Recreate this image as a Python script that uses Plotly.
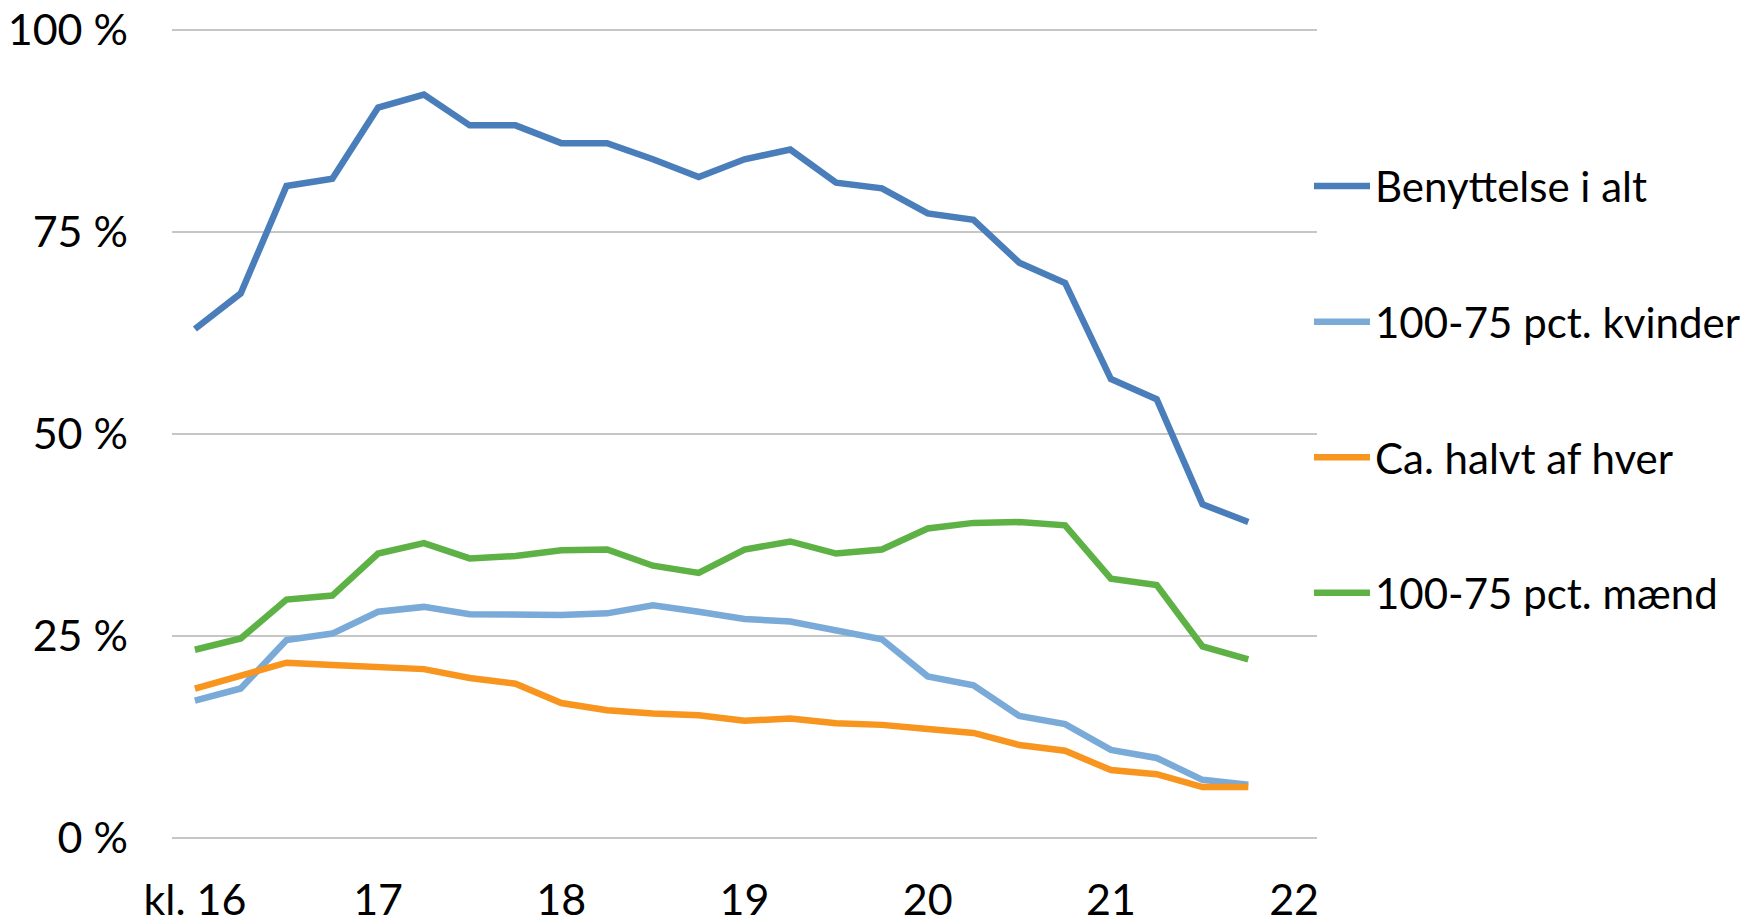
import plotly.graph_objects as go

hours = [16 + i * 0.25 for i in range(24)]

benyttelse = [63.0, 67.4, 80.7, 81.6, 90.4, 92.0, 88.2, 88.2, 86.0, 86.0, 84.0, 81.8,
              84.0, 85.2, 81.1, 80.4, 77.3, 76.5, 71.2, 68.7, 56.8, 54.3, 41.3, 39.1]
kvinder = [17.0, 18.5, 24.5, 25.3, 28.0, 28.6, 27.7, 27.6, 27.6, 27.8, 28.8, 28.0,
           27.1, 26.8, 25.8, 24.6, 20.0, 18.9, 15.1, 14.1, 10.9, 9.9, 7.2, 6.6]
halvt = [18.5, 20.0, 21.7, 21.4, 21.1, 20.9, 19.8, 19.1, 16.7, 15.8, 15.4, 15.2,
         14.5, 14.8, 14.2, 14.0, 13.5, 13.0, 11.5, 10.8, 8.4, 7.9, 6.3, 6.3]
maend = [23.3, 24.7, 29.5, 30.0, 35.2, 36.5, 34.6, 34.9, 35.6, 35.7, 33.7, 32.8,
         35.7, 36.7, 35.2, 35.7, 38.3, 39.0, 39.1, 38.7, 32.1, 31.3, 23.7, 22.1]

names = ["Benyttelse i alt", "100-75 pct. kvinder", "Ca. halvt af hver", "100-75 pct. mænd"]
series = [benyttelse, kvinder, halvt, maend]
colors = ["#4A7EBB", "#7AAAD8", "#F7951E", "#5EB245"]

x_tickvals = [16, 17, 18, 19, 20, 21, 22]
x_ticktext = ["kl. 16", "17", "18", "19", "20", "21", "22"]
y_tickvals = [0, 25, 50, 75, 100]
y_ticktext = ["0 %", "25 %", "50 %", "75 %", "100 %"]

fig = go.Figure()
for n, s, c in zip(names, series, colors):
    fig.add_trace(go.Scatter(x=hours, y=s, name=n, mode="lines",
                             line=dict(color=c, width=6.5), legendgroup=n))

FONT = "Lato"
fig.update_layout(
    width=1757, height=919,
    margin=dict(l=172, r=440, t=28, b=79, autoexpand=False),
    paper_bgcolor="white", plot_bgcolor="white",
    font=dict(family=FONT, size=43, color="black"),
    showlegend=True,
    legend=dict(x=0.993, xanchor="left", y=0.847, yanchor="top",
                traceorder="grouped", tracegroupgap=78, itemwidth=56,
                font=dict(family=FONT, size=42, color="black"),
                bgcolor="rgba(0,0,0,0)"),
    xaxis=dict(range=[15.875, 22.125], tickvals=x_tickvals, ticktext=x_ticktext,
               showgrid=False, zeroline=False, showline=False, ticks="",
               automargin=False, ticklabeloverflow="allow",
               ticklabelstandoff=31, tickfont=dict(size=43)),
    yaxis=dict(range=[-0.25, 100.25], tickvals=y_tickvals, ticktext=y_ticktext,
               showgrid=True, gridcolor="#C6C6C6", gridwidth=1.5,
               zeroline=False, showline=False, ticks="",
               automargin=False, ticklabeloverflow="allow",
               ticklabelstandoff=43, tickfont=dict(size=43)),
)

fig.write_html("out.html", config={"displayModeBar": False},
               post_script="document.body.style.margin='0';document.body.style.overflow='hidden';")
